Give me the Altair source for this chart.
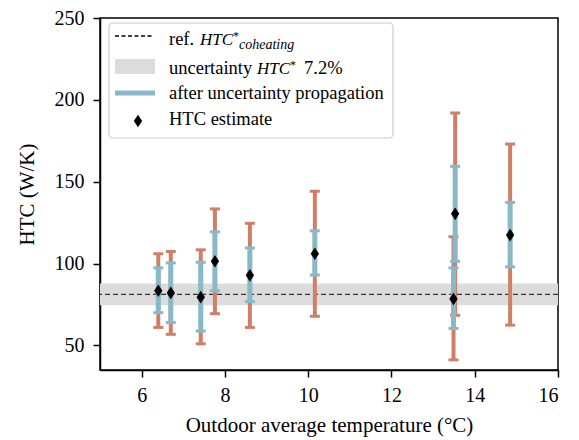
import altair as alt
import pandas as pd

# ---- data ----
temp = [6.40, 6.70, 7.42, 7.76, 8.60, 10.16, 13.49, 13.53, 14.85]
htc = [83.4, 82.1, 79.5, 101.4, 92.8, 106.0, 78.4, 130.4, 117.4]
red_lo = [61.0, 56.8, 51.0, 69.4, 61.0, 67.8, 41.2, 68.4, 62.4]
red_hi = [106.0, 107.4, 108.4, 133.4, 124.6, 144.2, 116.4, 192.0, 173.0]
blue_lo = [70.0, 64.0, 58.8, 83.4, 76.8, 93.0, 60.4, 101.4, 98.0]
blue_hi = [97.4, 100.4, 100.8, 119.4, 109.5, 120.0, 97.4, 159.4, 137.4]
ref_htc = 81.2
band_lo = 74.6
band_hi = 87.9

x_ticks = [6, 8, 10, 12, 14, 16]
y_ticks = [50, 100, 150, 200, 250]

RED = "#cf7f67"
BLUE = "#87b9c9"
FONT = "Liberation Serif"
W, H = 458, 352

df = pd.DataFrame({"t": temp, "h": htc, "rlo": red_lo, "rhi": red_hi,
                   "blo": blue_lo, "bhi": blue_hi})
caps_red = pd.DataFrame({"t": temp + temp, "v": red_lo + red_hi})
caps_blue = pd.DataFrame({"t": temp + temp, "v": blue_lo + blue_hi})

xs = alt.Scale(domain=[5, 16], nice=False, zero=False)
ys = alt.Scale(domain=[35, 250], nice=False, zero=False)

xax = alt.Axis(values=x_ticks, title="Outdoor average temperature (°C)", format="d")
yax = alt.Axis(values=y_ticks, title="HTC (W/K)", format="d")

band = alt.Chart(pd.DataFrame({"lo": [band_lo], "hi": [band_hi]})).mark_rect(
    color="#dcdcdc").encode(
    x=alt.value(0), x2=alt.value(W),
    y=alt.Y("lo:Q", scale=ys, axis=yax), y2="hi:Q")

refline = alt.Chart(pd.DataFrame({"r": [ref_htc]})).mark_rule(
    color="#333333", strokeWidth=1.3, strokeDash=[5, 3]).encode(
    y=alt.Y("r:Q", scale=ys))

red_bar = alt.Chart(df).mark_rule(color=RED, strokeWidth=4).encode(
    x=alt.X("t:Q", scale=xs, axis=xax), y=alt.Y("rlo:Q", scale=ys), y2="rhi:Q")
red_cap = alt.Chart(caps_red).mark_tick(orient="horizontal", color=RED, size=10,
                                         thickness=3, opacity=1).encode(
    x=alt.X("t:Q", scale=xs), y=alt.Y("v:Q", scale=ys))
blue_bar = alt.Chart(df).mark_rule(color=BLUE, strokeWidth=5).encode(
    x=alt.X("t:Q", scale=xs), y=alt.Y("blo:Q", scale=ys), y2="bhi:Q")
blue_cap = alt.Chart(caps_blue).mark_tick(orient="horizontal", color=BLUE, size=10,
                                           thickness=3, opacity=1).encode(
    x=alt.X("t:Q", scale=xs), y=alt.Y("v:Q", scale=ys))

DIAMOND = "M0,-1L0.66,0L0,1L-0.66,0Z"
points = alt.Chart(df).mark_point(shape=DIAMOND, filled=True, color="black",
                                  size=160, opacity=1).encode(
    x=alt.X("t:Q", scale=xs), y=alt.Y("h:Q", scale=ys))

# ---- legend (decoration) ----
one = pd.DataFrame({"a": [0]})
leg_box = alt.Chart(one).mark_rect(fill="white", fillOpacity=0.85, stroke="#cccccc",
                                   strokeWidth=1.2, cornerRadius=4).encode(
    x=alt.value(9), x2=alt.value(293), y=alt.value(5), y2=alt.value(120))
leg_dash = alt.Chart(one).mark_rule(color="black", strokeWidth=1.3,
                                    strokeDash=[4, 2.5]).encode(
    x=alt.value(15), x2=alt.value(53), y=alt.value(18))
leg_band = alt.Chart(one).mark_rect(color="#dcdcdc").encode(
    x=alt.value(15), x2=alt.value(55), y=alt.value(41), y2=alt.value(56))
leg_blue = alt.Chart(one).mark_rule(color=BLUE, strokeWidth=5).encode(
    x=alt.value(15), x2=alt.value(55), y=alt.value(75))
leg_pt = alt.Chart(one).mark_point(shape=DIAMOND, filled=True, color="black",
                                   size=160, opacity=1).encode(
    x=alt.value(38), y=alt.value(103))


def txt(s, x, y, size=18.5, style="normal"):
    return alt.Chart(one).mark_text(text=s, align="left", baseline="alphabetic",
                                    font=FONT, fontSize=size, fontStyle=style,
                                    color="black").encode(
        x=alt.value(x), y=alt.value(y))


legend_texts = [
    txt("ref.", 69, 27),
    txt("HTC", 100, 27, size=17, style="italic"),
    txt("*", 133, 22, size=12),
    txt("coheating", 139, 31, size=14, style="italic"),
    txt("uncertainty", 69, 56),
    txt("HTC", 157, 56, size=17, style="italic"),
    txt("*", 190, 51, size=12),
    txt("7.2%", 204, 56),
    txt("after uncertainty propagation", 69, 81),
    txt("HTC estimate", 69, 107),
]

chart = alt.layer(band, refline, red_bar, red_cap, blue_bar, blue_cap, points,
                  leg_box, leg_dash, leg_band, leg_blue, leg_pt, *legend_texts
                  ).properties(
    width=W, height=H,
    autosize=alt.AutoSizeParams(type="none"),
    padding={"left": 92, "top": 10, "right": 13, "bottom": 72},
).configure_view(stroke="black", strokeWidth=1.5
).configure_axis(
    grid=False, domainColor="black", domainWidth=1.5, tickColor="black",
    tickWidth=1.5, tickSize=7, labelFont=FONT, titleFont=FONT,
    labelFontSize=20, titleFontSize=21, titleFontWeight="normal",
    labelColor="black", titleColor="black", labelPadding=8, titlePadding=9,
).configure_axisY(labelPadding=9, titlePadding=17)

chart.save("out.html", embed_options={"renderer": "svg", "actions": False})
